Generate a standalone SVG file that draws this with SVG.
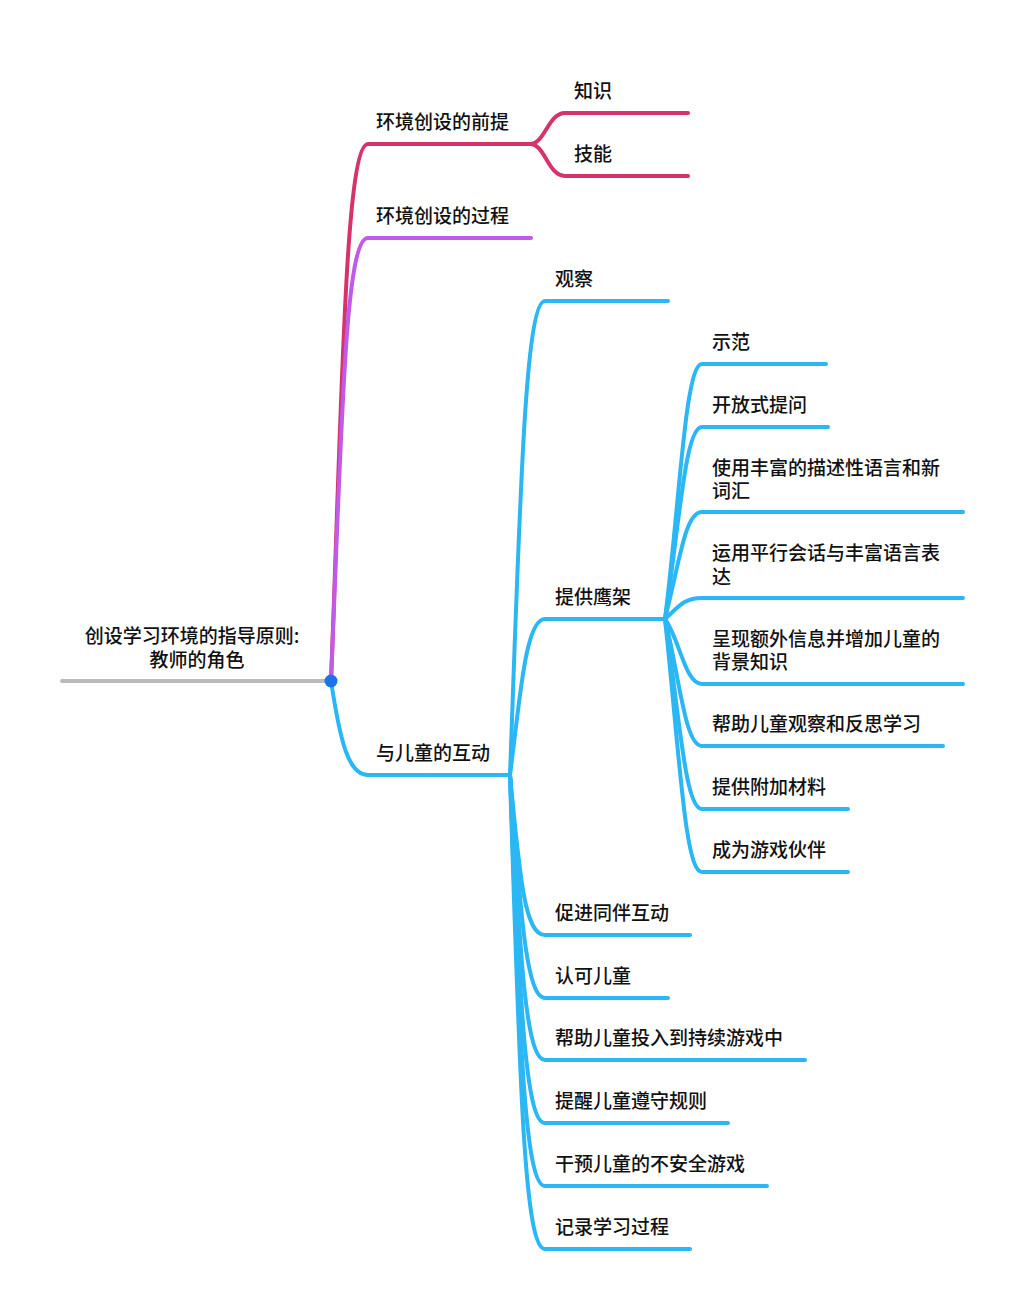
<svg xmlns="http://www.w3.org/2000/svg" width="1024" height="1312" viewBox="0 0 1024 1312">
<style>
text{font-family:"Noto Sans CJK SC","Noto Sans",sans-serif;font-size:19px;font-weight:500;fill:#111}
.l{fill:none;stroke-width:4;stroke-linecap:round}
.r{stroke:#d6336c}.p{stroke:#c05ae8}.b{stroke:#2bb7f3}
</style>
<rect width="1024" height="1312" fill="#fff"/>
<g id="connectors">
<path class="l" d="M62,681 H331" stroke="#bbb"/>
<path class="l r" d="M331,681 C342,400 345,144 368,144 H530"/>
<path class="l r" d="M530,144 C545,144 548,113 565,113 H688"/>
<path class="l r" d="M530,144 C545,144 548,176 565,176 H688"/>
<path class="l p" d="M331,681 C342,420 345,238 368,238 H531"/>
<path class="l b" d="M331,681 C340,740 348,775 368,775 H510"/>
<path class="l b" d="M510,775 C520,500 525,301 545,301 H668"/>
<path class="l b" d="M510,775 C520,700 525,619 545,619 H665"/>
<path class="l b" d="M510,775 C520,880 525,935 545,935 H690"/>
<path class="l b" d="M510,775 C520,900 525,998 545,998 H668"/>
<path class="l b" d="M510,775 C520,950 525,1060 545,1060 H805"/>
<path class="l b" d="M510,775 C520,1000 525,1123 545,1123 H728"/>
<path class="l b" d="M510,775 C520,1050 525,1186 545,1186 H767"/>
<path class="l b" d="M510,775 C520,1100 525,1249 545,1249 H690"/>
<path class="l b" d="M665,619 C680,500 685,364 702,364 H826"/>
<path class="l b" d="M665,619 C680,520 685,427 702,427 H828"/>
<path class="l b" d="M665,619 C680,560 685,512 702,512 H963"/>
<path class="l b" d="M665,619 C680,605 685,598 702,598 H963"/>
<path class="l b" d="M665,619 C680,640 685,684 702,684 H963"/>
<path class="l b" d="M665,619 C680,680 685,746 702,746 H943"/>
<path class="l b" d="M665,619 C680,720 685,809 702,809 H848"/>
<path class="l b" d="M665,619 C680,760 685,872 702,872 H848"/>
</g>
<g id="root"><text x="192" y="643" text-anchor="middle">创设学习环境的指导原则:</text><text x="197" y="667" text-anchor="middle">教师的角色</text><circle cx="331" cy="681" r="6.5" fill="#1a73e8"/></g>
<g id="n1"><text x="376" y="129">环境创设的前提</text></g>
<g id="n1a"><text x="574" y="98">知识</text></g>
<g id="n1b"><text x="574" y="161">技能</text></g>
<g id="n2"><text x="376" y="223">环境创设的过程</text></g>
<g id="n3"><text x="376" y="760">与儿童的互动</text></g>
<g id="n3a"><text x="555" y="286">观察</text></g>
<g id="n3b"><text x="555" y="604">提供鹰架</text></g>
<g id="n3b1"><text x="712" y="349">示范</text></g>
<g id="n3b2"><text x="712" y="412">开放式提问</text></g>
<g id="n3b3"><text x="712" y="475">使用丰富的描述性语言和新</text><text x="712" y="498">词汇</text></g>
<g id="n3b4"><text x="712" y="560">运用平行会话与丰富语言表</text><text x="712" y="584">达</text></g>
<g id="n3b5"><text x="712" y="646">呈现额外信息并增加儿童的</text><text x="712" y="669">背景知识</text></g>
<g id="n3b6"><text x="712" y="731">帮助儿童观察和反思学习</text></g>
<g id="n3b7"><text x="712" y="794">提供附加材料</text></g>
<g id="n3b8"><text x="712" y="857">成为游戏伙伴</text></g>
<g id="n3c"><text x="555" y="920">促进同伴互动</text></g>
<g id="n3d"><text x="555" y="983">认可儿童</text></g>
<g id="n3e"><text x="555" y="1045">帮助儿童投入到持续游戏中</text></g>
<g id="n3f"><text x="555" y="1108">提醒儿童遵守规则</text></g>
<g id="n3g"><text x="555" y="1171">干预儿童的不安全游戏</text></g>
<g id="n3h"><text x="555" y="1234">记录学习过程</text></g>
</svg>
